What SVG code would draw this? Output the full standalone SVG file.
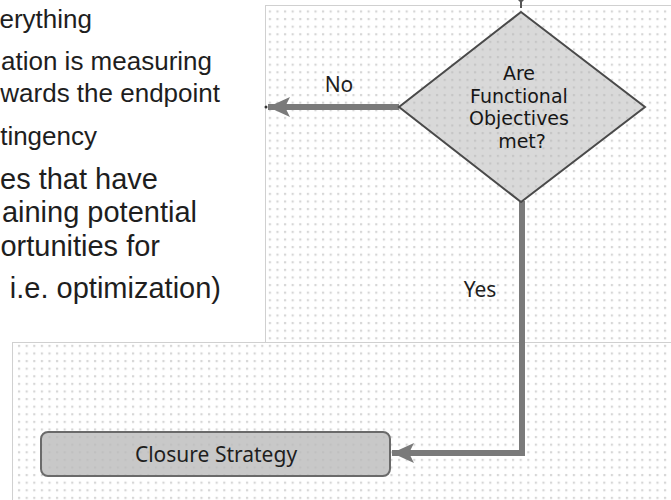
<svg xmlns="http://www.w3.org/2000/svg" width="671" height="500" viewBox="0 0 671 500">
  <defs>
    <pattern id="dots" width="7.6" height="7.6" patternUnits="userSpaceOnUse">
      <rect x="2.8" y="2.8" width="2.2" height="2.2" fill="#d6d6d6"/>
    </pattern>
    <pattern id="dotsDark" width="7.6" height="7.6" patternUnits="userSpaceOnUse">
      <rect x="2.8" y="2.8" width="2.2" height="2.2" fill="#bdbdbd"/>
    </pattern>
    <marker id="arrow" markerWidth="24" markerHeight="22" refX="22" refY="11" orient="auto" markerUnits="userSpaceOnUse">
      <path d="M0,1 L22,11 L0,21 L5,11 Z" fill="#7a7a7a"/>
    </marker>
    <style>
      .bullet { font-family: "Liberation Sans", Arial, sans-serif; font-size: 26px; fill: #1e1e1e; text-anchor: end; }
      .big { font-size: 29px; }
      .lbl { font-family: "Noto Sans", "Open Sans", sans-serif; font-size: 21px; fill: #1e1e1e; }
      .dia { font-family: "DejaVu Sans", "Noto Sans", sans-serif; font-size: 19px; fill: #161616; }
      .conn { fill: none; stroke: #7a7a7a; stroke-width: 6; }
      .panel { fill: url(#dots); stroke: #d0d0d0; stroke-width: 1; }
    </style>
  </defs>
  <rect width="671" height="500" fill="#ffffff"/>

  <g id="bullets">
    <text class="bullet" x="92" y="28">erything</text>
    <text class="bullet" x="212" y="70">ation is measuring</text>
    <text class="bullet" x="220" y="102">wards the endpoint</text>
    <text class="bullet" x="97" y="145">tingency</text>
    <text class="bullet big" x="158" y="189">es that have</text>
    <text class="bullet big" x="197" y="222">aining potential</text>
    <text class="bullet big" x="160" y="256">ortunities for</text>
    <text class="bullet big" x="221" y="298">i.e. optimization)</text>
  </g>

  <g id="panels">
    <rect class="panel" x="265.5" y="5.5" width="410" height="337"/>
    <rect class="panel" x="12.5" y="342.5" width="663" height="163"/>
  </g>

  <g id="connectors">
    <path d="M521,1 L521,8" stroke="#555" stroke-width="2" fill="none"/>
    <path d="M521,3 L518,0 L524,0 Z" fill="#555"/>
    <path class="conn" d="M399,107 L268,107" marker-end="url(#arrow)"/>
    <circle cx="266" cy="107" r="1.5" fill="#333"/>
    <path class="conn" d="M522,201 L522,453 L392,453" marker-end="url(#arrow)"/>
    <text class="lbl" x="339" y="92" text-anchor="middle">No</text>
    <text class="lbl" x="480" y="297" text-anchor="middle">Yes</text>
  </g>

  <g id="decision">
    <polygon points="521,12 645,107 521,202 399,107" fill="#d9d9d9"/>
    <polygon points="521,12 645,107 521,202 399,107" fill="url(#dotsDark)" opacity="0.7"/>
    <polygon points="521,12 645,107 521,202 399,107" fill="none" stroke="#4a4a4a" stroke-width="2"/>
    <text class="dia" text-anchor="middle">
      <tspan x="522" y="80">Are</tspan>
      <tspan x="522" y="102.5">Functional</tspan>
      <tspan x="522" y="125">Objectives</tspan>
      <tspan x="522" y="147.5">met?</tspan>
    </text>
  </g>

  <g id="closure">
    <rect x="41" y="432" width="349" height="44" rx="7" fill="#c8c8c8"/>
    <rect x="41" y="432" width="349" height="44" rx="7" fill="url(#dotsDark)" opacity="0.7"/>
    <rect x="41" y="432" width="349" height="44" rx="7" fill="none" stroke="#6a6a6a" stroke-width="2"/>
    <text class="lbl" x="216" y="462" text-anchor="middle">Closure Strategy</text>
  </g>
</svg>
